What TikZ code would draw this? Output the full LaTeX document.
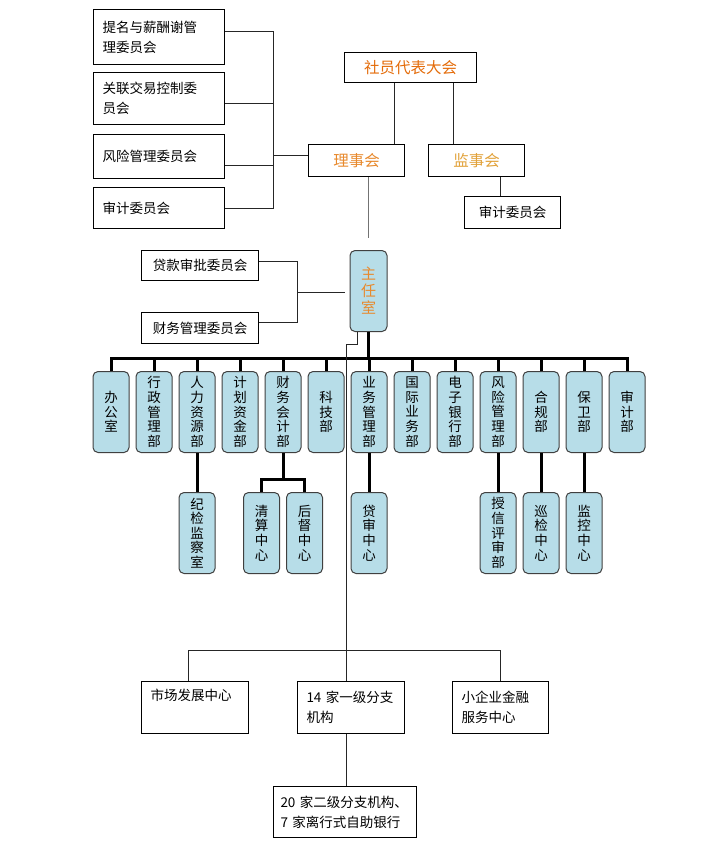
\documentclass[tikz,border=0pt]{standalone}
\usepackage{fontspec}
\newfontfamily\cjk{Noto Sans CJK SC}
\usetikzlibrary{positioning}

\definecolor{deptfill}{HTML}{B7DDE8}
\definecolor{orgorange}{HTML}{E46C0A}
\definecolor{boardorange}{HTML}{E8892C}
\definecolor{supgold}{HTML}{E2A23A}

\tikzset{
  every node/.style={font=\cjk\fontsize{13.5}{20}\selectfont},
  wbox/.style={draw=black, line width=1pt, fill=white, inner xsep=9pt, inner ysep=0pt, align=left, anchor=north west},
  cbox/.style={draw=black, line width=1pt, fill=white, inner sep=0pt, align=center, anchor=north west},
  dept/.style={draw=black!75, line width=1pt, fill=deptfill, rounded corners=5pt, minimum width=36pt, minimum height=81pt, inner sep=0pt, align=center, font=\cjk\fontsize{13.5}{14.6}\selectfont},
  link/.style={draw=black!85, line width=1pt},
  graylink/.style={draw=black!55, line width=1.3pt},
  bus/.style={draw=black, line width=3pt},
}

\begin{document}
\begin{tikzpicture}[x=1pt,y=-1pt]
		\useasboundingbox (0,0) rectangle (722,841);
		%
		\node[cbox, minimum width=132pt, minimum height=30pt, text=orgorange, font=\cjk\fontsize{15.5}{18}\selectfont] (she) at (344,52) {社员代表大会};
		\node[cbox, minimum width=96pt, minimum height=32pt, text=boardorange, font=\cjk\fontsize{15.5}{18}\selectfont] (lishi) at (308,144) {理事会};
		\node[cbox, minimum width=96pt, minimum height=32pt, text=supgold, font=\cjk\fontsize{15.5}{18}\selectfont, right=23pt of lishi] (jianshi) {监事会};
		\node[cbox, minimum width=96pt, minimum height=32pt] (jwh) at (464,196) {审计委员会};
		%
		\node[wbox, text width=113pt, minimum height=55pt] (tm) at (93,9) {提名与薪酬谢管\\理委员会};
		\node[wbox, text width=113pt, minimum height=52pt, below=7pt of tm] (gl) {关联交易控制委\\员会};
		\node[wbox, text width=113pt, minimum height=44pt, below=9pt of gl] (fx) {风险管理委员会};
		\node[wbox, text width=113pt, minimum height=41pt, below=8pt of fx] (sj) {审计委员会};
		%
		\node[dept, anchor=north, minimum width=37pt, text=boardorange, font=\cjk\fontsize{15}{17}\selectfont] (zhuren) at (368.5,250) {主\\任\\室};
		\node[cbox, minimum width=117pt, minimum height=30pt] (dk) at (141,250) {贷款审批委员会};
		\node[cbox, minimum width=117pt, minimum height=31pt] (cw) at (141,312) {财务管理委员会};
		%
		\node[dept, anchor=north] (d1) at (111,371) {办\\公\\室};
		\node[dept, right=6pt of d1] (d2) {行\\政\\管\\理\\部};
		\node[dept, right=6pt of d2] (d3) {人\\力\\资\\源\\部};
		\node[dept, right=6pt of d3] (d4) {计\\划\\资\\金\\部};
		\node[dept, right=6pt of d4] (d5) {财\\务\\会\\计\\部};
		\node[dept, right=6pt of d5] (d6) {科\\技\\部};
		\node[dept, right=6pt of d6] (d7) {业\\务\\管\\理\\部};
		\node[dept, right=6pt of d7] (d8) {国\\际\\业\\务\\部};
		\node[dept, right=6pt of d8] (d9) {电\\子\\银\\行\\部};
		\node[dept, right=6pt of d9] (d10) {风\\险\\管\\理\\部};
		\node[dept, right=6pt of d10] (d11) {合\\规\\部};
		\node[dept, right=6pt of d11] (d12) {保\\卫\\部};
		\node[dept, right=6pt of d12] (d13) {审\\计\\部};
		%
		\node[dept, below=39pt of d3] (jj) {纪\\检\\监\\察\\室};
		\node[dept, below=39pt of d5, xshift=-21.5pt] (qs) {清\\算\\中\\心};
		\node[dept, below=39pt of d5, xshift=21.5pt] (hd) {后\\督\\中\\心};
		\node[dept, below=39pt of d7] (ds) {贷\\审\\中\\心};
		\node[dept, below=39pt of d10] (sx) {授\\信\\评\\审\\部};
		\node[dept, below=39pt of d11] (xj) {巡\\检\\中\\心};
		\node[dept, below=39pt of d12] (jk) {监\\控\\中\\心};
		%
		\node[wbox, text width=89pt, minimum height=52pt] (sc) at (141,681) {市场发展中心\\\strut};
		\node[wbox, text width=89pt, minimum height=52pt] (yj) at (297,681) {14 家一级分支\\机构};
		\node[wbox, text width=78pt, minimum height=52pt] (xq) at (452,681) {小企业金融\\服务中心};
		\node[wbox, text width=129pt, inner xsep=7pt, minimum height=51pt] (ej) at (273,786) {20 家二级分支机构、\\7 家离行式自助银行};
		%
		\path ([xshift=-11pt]lishi.north east) coordinate (ls);
		\path ([xshift=25pt]jianshi.north west) coordinate (js);
		\path ([xshift=-12pt]jwh.north) coordinate (jw);
		\draw[link] (ls) -- (ls |- she.south);
		\draw[link] (js) -- (js |- she.south);
		\draw[link] (jw) -- (jw |- jianshi.south);
		%
		\coordinate (lbus) at (273,155);
		\foreach \n/\dy in {tm/5.5, gl/-5, fx/-9, sj/0}
			\draw[link] ([yshift=\dy pt]\n.east) -| (lbus);
		\draw[link] (lbus) -- (lbus -| lishi.west);
		\draw[graylink, shorten >=12pt] (zhuren.north |- lishi.south) -- (zhuren.north);
		%
		\coordinate (zbus) at (297,292);
		\draw[link] ([yshift=4pt]dk.east) -| (zbus);
		\draw[link] ([yshift=5.5pt]cw.east) -| (zbus);
		\draw[link, shorten >=5pt] (zbus) -- (zbus -| zhuren.west);
		%
		\coordinate (dbus) at (368.5,358);
		\draw[bus] (zhuren.south) -- (dbus);
		\foreach \i in {1,...,13}
			\draw[bus] (d\i.north) |- (dbus);
		\draw[bus] (d3.south) -- (jj.north);
		\path (d5.south) ++(0,26) coordinate (qbus);
		\draw[bus] (d5.south) -- (qbus);
		\draw[bus] (qs.north) |- (qbus);
		\draw[bus] (hd.north) |- (qbus);
		\draw[bus] (d7.south) -- (ds.north);
		\draw[bus] (d10.south) -- (sx.north);
		\draw[bus] (d11.south) -- (xj.north);
		\draw[bus] (d12.south) -- (jk.north);
		%
		\coordinate (bbus) at (346.5,650);
		\draw[link] ([xshift=-11.5pt]zhuren.south) -- ++(0,12) -| (bbus);
		\draw[link] ([xshift=-6.5pt]sc.north) |- (bbus);
		\draw[link] (xq.north) |- (bbus);
		\draw[link] (bbus) -- (bbus |- yj.north);
		\draw[link] (bbus |- yj.south) -- (bbus |- ej.north);
	\end{tikzpicture}
\end{document}
